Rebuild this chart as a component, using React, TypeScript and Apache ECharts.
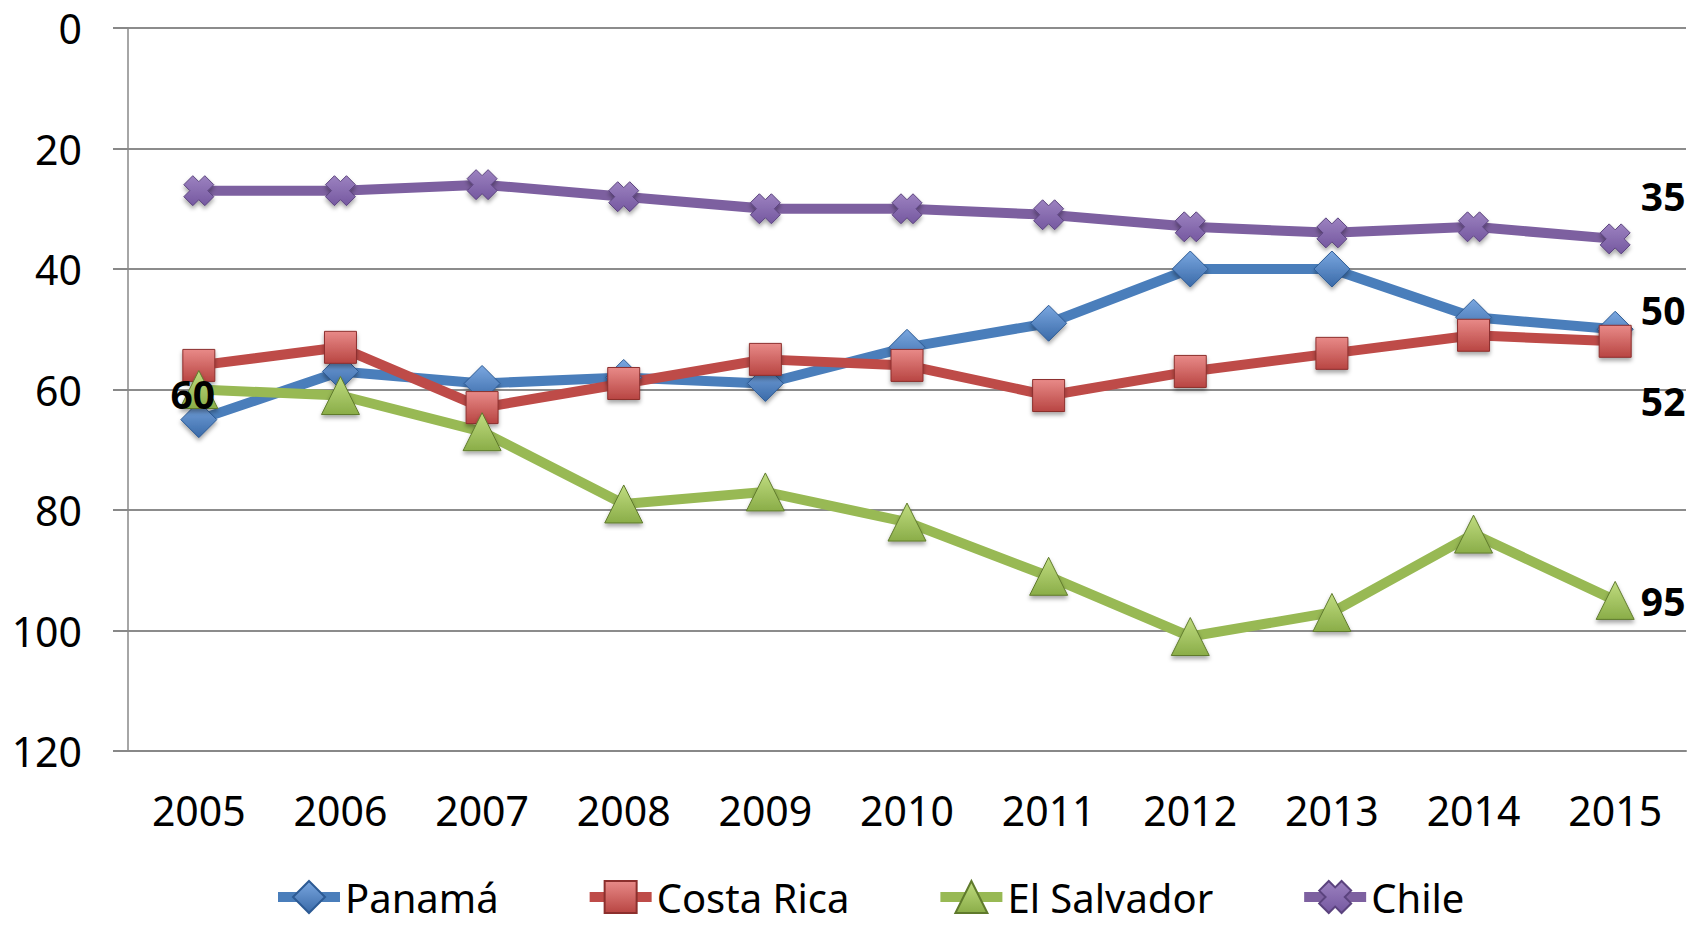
import React, { useEffect, useRef } from "react";
import * as echarts from "echarts";

const years = ["2005", "2006", "2007", "2008", "2009", "2010", "2011", "2012", "2013", "2014", "2015"];
const panama = [65, 57, 59, 58, 59, 53, 49, 40, 40, 48, 50];
const costaRica = [56, 53, 63, 59, 55, 56, 61, 57, 54, 51, 52];
const elSalvador = [60, 61, 67, 79, 77, 82, 91, 101, 97, 84, 95];
const chile = [27, 27, 26, 28, 30, 30, 31, 33, 34, 33, 35];

const FONT = "Noto Sans";
const X_PATH = "path://M0,3 L3,0 L5,2 L7,0 L10,3 L8,5 L10,7 L7,10 L5,8 L3,10 L0,7 L2,5 Z";

function grad(light: string, dark: string) {
  return new echarts.graphic.LinearGradient(0, 0, 0, 1, [
    { offset: 0, color: light },
    { offset: 1, color: dark },
  ]);
}

function labelled(values: number[], labels: Record<number, number[]>) {
  return values.map((v, i) => {
    if (labels[i]) {
      return {
        value: v,
        label: {
          show: true,
          position: "inside",
          offset: labels[i],
          formatter: "{c}",
          fontFamily: FONT,
          fontWeight: "bold",
          fontSize: 39,
          color: "#000",
        },
      };
    }
    return v;
  });
}

export default function App() {
  const ref = useRef<HTMLDivElement>(null);
  useEffect(() => {
    const chart = echarts.init(ref.current!, null, { renderer: "svg" });
    const mkSeries = (
      name: string,
      data: any[],
      color: string,
      light: string,
      dark: string,
      border: string,
      symbol: string,
      size: number
    ) => ({
      name,
      type: "line",
      data,
      symbol,
      symbolSize: size,
      showSymbol: true,
      lineStyle: { color, width: 10 },
      itemStyle: {
        color: grad(light, dark),
        borderColor: border,
        borderWidth: 1,
        shadowColor: "rgba(0,0,0,0.35)",
        shadowBlur: 4,
        shadowOffsetY: 3,
      },
      emphasis: { disabled: true },
      z: 2,
    });
    chart.setOption({
      animation: false,
      grid: { left: 128, right: 7, top: 28, bottom: 174, containLabel: false },
      legend: {
        left: 268,
        top: 872,
        itemWidth: 62,
        itemHeight: 40,
        itemGap: 86,
        lineStyle: { width: 10 },
        textStyle: { fontFamily: FONT, fontSize: 40, color: "#000", lineHeight: 40 },
        data: ["Panamá", "Costa Rica", "El Salvador", "Chile"],
      },
      xAxis: {
        type: "category",
        data: years,
        boundaryGap: true,
        axisLine: { onZero: false, lineStyle: { color: "#888", width: 2 } },
        axisTick: { show: false },
        axisLabel: { fontFamily: FONT, fontSize: 41, color: "#000", margin: 38 },
      },
      yAxis: {
        type: "value",
        inverse: true,
        min: 0,
        max: 120,
        interval: 20,
        axisLine: { show: true, lineStyle: { color: "#888", width: 1.5 } },
        axisTick: { show: true, length: 15, lineStyle: { color: "#888", width: 2 } },
        axisLabel: { fontFamily: FONT, fontSize: 41, color: "#000", margin: 46 },
        splitLine: { lineStyle: { color: "#8c8c8c", width: 2 } },
      },
      series: [
        mkSeries("Panamá", labelled(panama, { 10: [48, -20] }), "#4A7EBB", "#7aa7e0", "#3a6aa8", "#2c5a94", "diamond", 36),
        mkSeries("Costa Rica", labelled(costaRica, { 10: [48, 59] }), "#BE4B48", "#e88a88", "#b84542", "#8c2f2d", "rect", 32),
        mkSeries("El Salvador", labelled(elSalvador, { 0: [-6, 4], 10: [48, 0] }), "#98B954", "#c0dc80", "#8aad48", "#5f7a2c", "triangle", 38),
        mkSeries("Chile", labelled(chile, { 10: [48, -43] }), "#7D60A0", "#9c82c0", "#7558a0", "#5b437e", X_PATH, 30),
      ],
    });
    return () => chart.dispose();
  }, []);
  return (
    <div
      ref={ref}
      style={{ position: "absolute", left: 0, top: 0, width: 1693, height: 925, background: "#fff" }}
    />
  );
}
